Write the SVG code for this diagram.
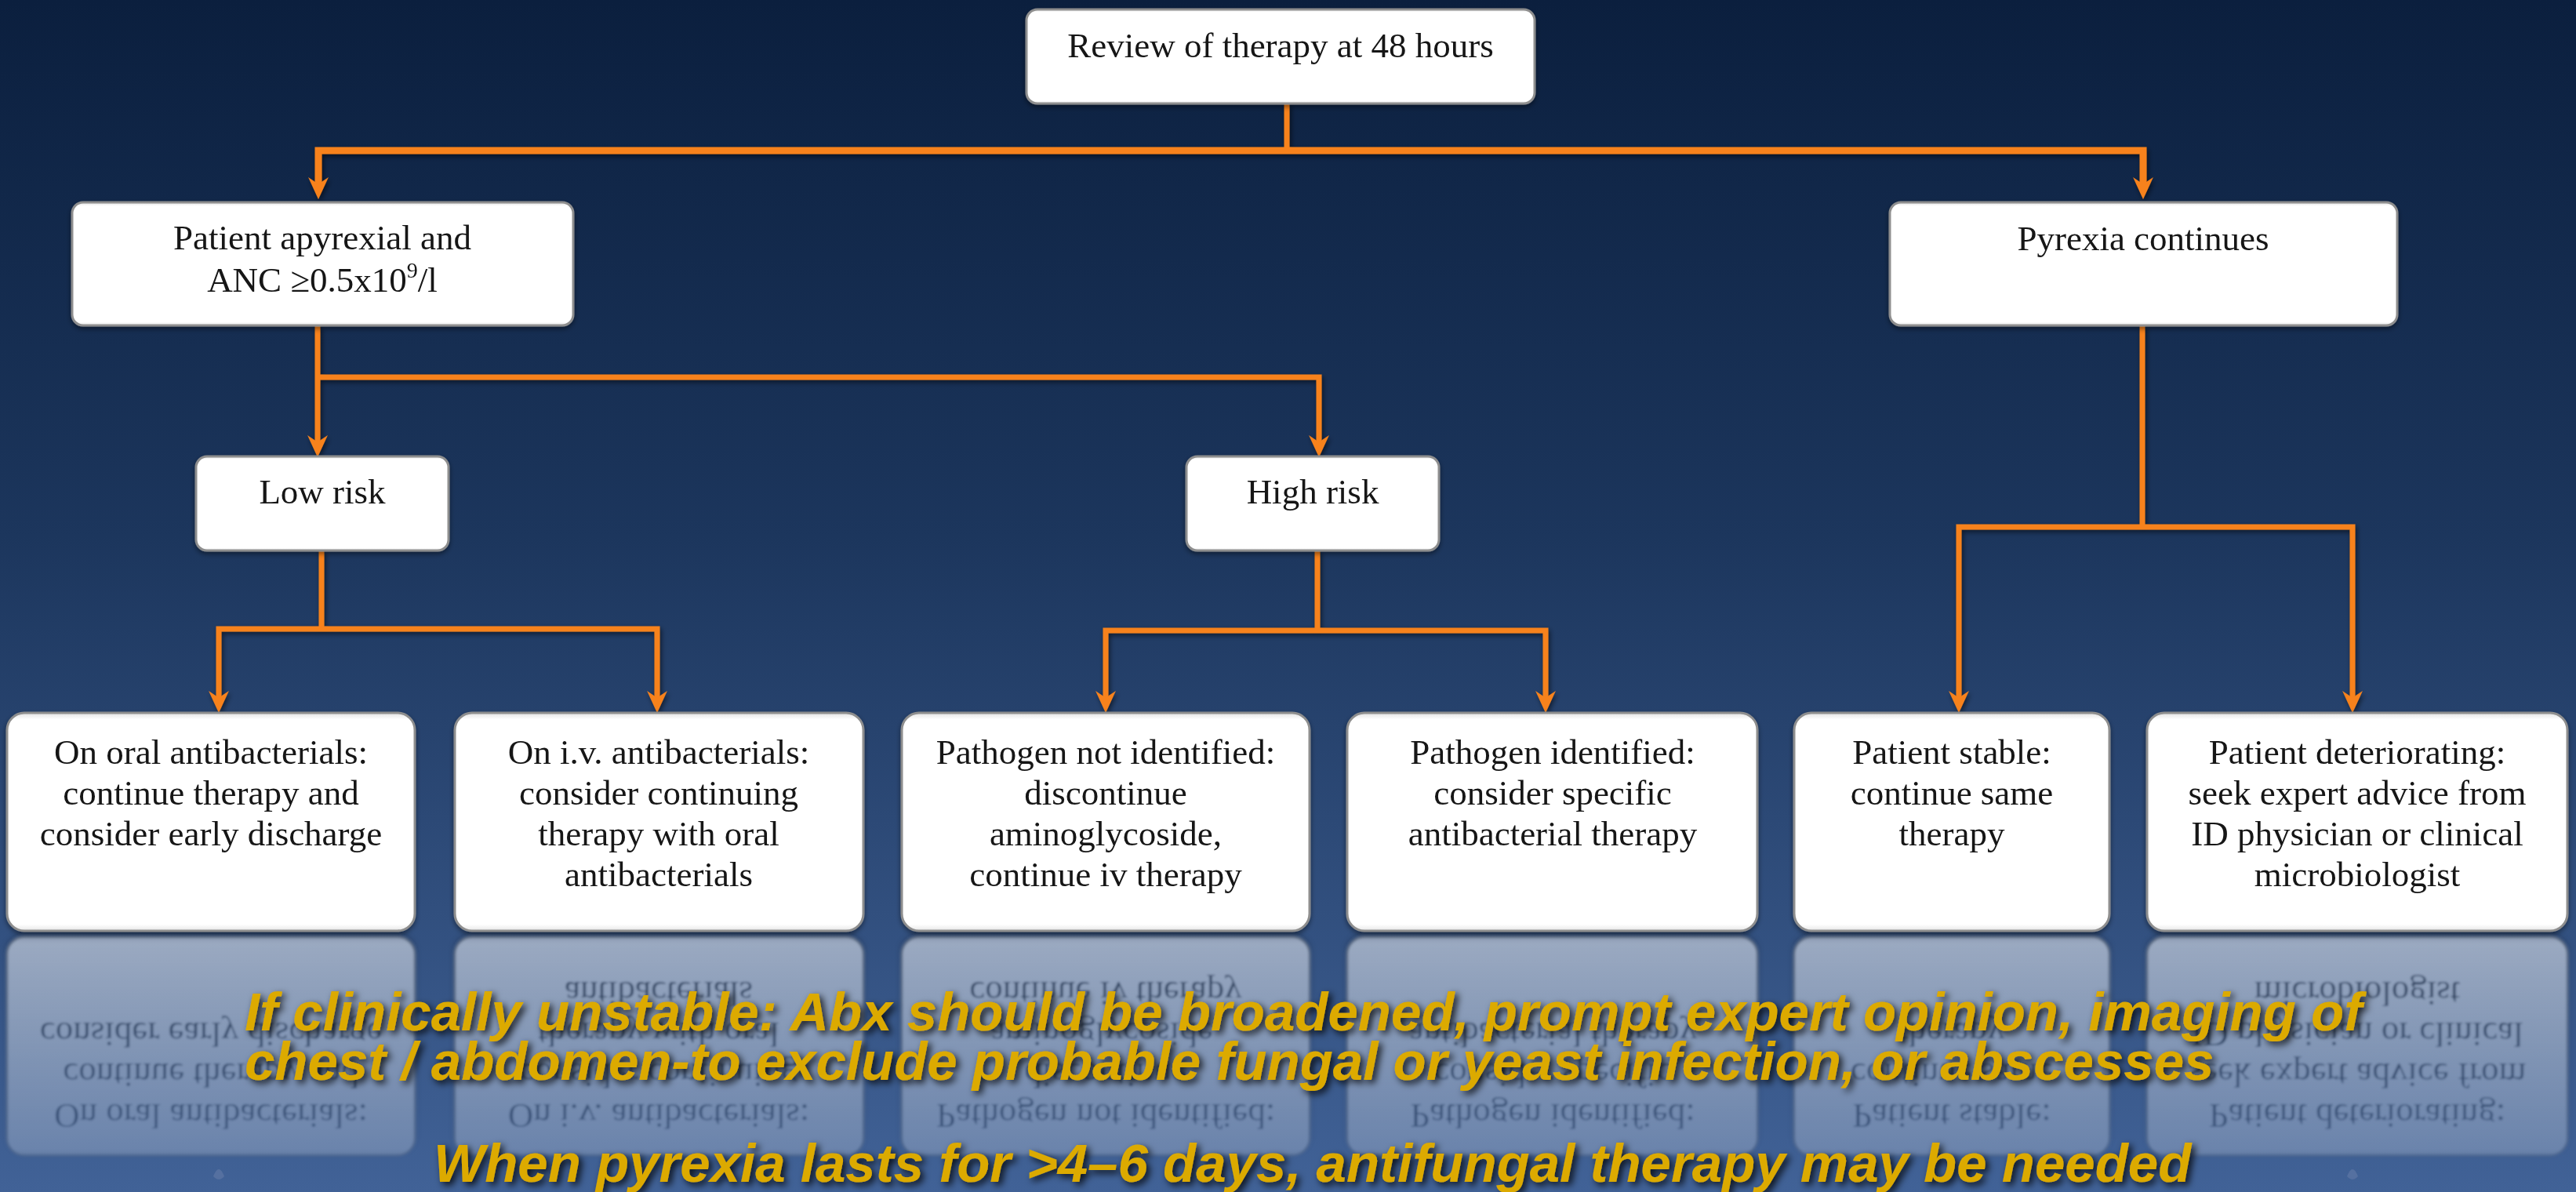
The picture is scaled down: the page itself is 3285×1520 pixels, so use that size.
<svg xmlns="http://www.w3.org/2000/svg" xmlns:xlink="http://www.w3.org/1999/xlink" width="3285" height="1520" viewBox="0 0 3285 1520">
<defs>
  <linearGradient id="bg" x1="0" y1="0" x2="0" y2="1">
    <stop offset="0" stop-color="#0b1f3e"/>
    <stop offset="0.45" stop-color="#1c365d"/>
    <stop offset="1" stop-color="#416297"/>
  </linearGradient>
  <linearGradient id="boxfill" x1="0" y1="0" x2="0" y2="1">
    <stop offset="0" stop-color="#e2e2e2"/>
    <stop offset="0.03" stop-color="#ffffff"/>
    <stop offset="0.97" stop-color="#ffffff"/>
    <stop offset="1" stop-color="#e6e6e6"/>
  </linearGradient>
  <linearGradient id="reflGrad" gradientUnits="userSpaceOnUse" x1="0" y1="1190" x2="0" y2="1480">
    <stop offset="0" stop-color="#ffffff" stop-opacity="0.52"/>
    <stop offset="1" stop-color="#ffffff" stop-opacity="0.22"/>
  </linearGradient>
  <mask id="reflMask" maskUnits="userSpaceOnUse" x="0" y="1188" width="3285" height="332">
    <rect x="0" y="1188" width="3285" height="332" fill="url(#reflGrad)"/>
  </mask>
  <filter id="boxShadow" x="-5%" y="-10%" width="110%" height="125%">
    <feDropShadow dx="0" dy="3" stdDeviation="3" flood-color="#000" flood-opacity="0.45"/>
  </filter>
  <filter id="lineShadow" x="-5%" y="-5%" width="110%" height="110%">
    <feDropShadow dx="2" dy="3" stdDeviation="3" flood-color="#000" flood-opacity="0.55"/>
  </filter>
  <filter id="txtShadow" x="-5%" y="-30%" width="110%" height="160%">
    <feDropShadow dx="4" dy="4" stdDeviation="5" flood-color="#000" flood-opacity="0.85"/>
  </filter>
  <filter id="reflBlur" filterUnits="userSpaceOnUse" x="0" y="1150" width="3285" height="370">
    <feGaussianBlur stdDeviation="1.6"/>
  </filter>
  <marker id="ah" markerUnits="userSpaceOnUse" markerWidth="28" markerHeight="26" viewBox="0 0 26 24" refX="12" refY="12" orient="auto-start-reverse">
    <path d="M0,0 L26,12 L0,24 L8,12 Z" fill="#f7821b"/>
  </marker>
  <style>
    .box { fill: url(#boxfill); stroke: #8e8e8e; stroke-width: 3; }
    .node { filter: url(#boxShadow); }
    .t { font-family: "Liberation Serif", "Times New Roman", serif; font-size: 45px; fill: #141414; text-anchor: middle; }
    .conn { fill: none; stroke: #f7821b; stroke-width: 7; stroke-linejoin: miter; stroke-linecap: butt; }
    .note { font-family: "Liberation Sans", Arial, sans-serif; font-weight: bold; font-style: italic; font-size: 69px; fill: #dcaa00; }
  </style>
</defs>

<rect x="0" y="0" width="3285" height="1520" fill="url(#bg)"/>

<!-- connectors -->
<g id="connectors" filter="url(#lineShadow)">
  <path class="conn" d="M1641,132 V192"/>
  <path class="conn" style="stroke-width:9" d="M406,239 V192 H2733 V239" marker-start="url(#ah)" marker-end="url(#ah)"/>
  <path class="conn" d="M405,415 V568" marker-end="url(#ah)"/>
  <path class="conn" d="M405,481 H1682 V568" marker-end="url(#ah)"/>
  <path class="conn" d="M410,702 V802"/>
  <path class="conn" d="M279,894 V802 H838 V894" marker-start="url(#ah)" marker-end="url(#ah)"/>
  <path class="conn" d="M1680,702 V804"/>
  <path class="conn" d="M1410,894 V804 H1971 V894" marker-start="url(#ah)" marker-end="url(#ah)"/>
  <path class="conn" d="M2732,415 V672"/>
  <path class="conn" d="M2498,894 V672 H3000 V894" marker-start="url(#ah)" marker-end="url(#ah)"/>
</g>

<!-- nodes -->
<g id="n-review" class="node">
  <rect class="box" x="1309" y="12" width="648" height="120" rx="14"/>
  <text class="t" x="1633" y="73">Review of therapy at 48 hours</text>
</g>
<g id="n-apyrexial" class="node">
  <rect class="box" x="92" y="258" width="639" height="157" rx="14"/>
  <text class="t" x="411" y="318">Patient apyrexial and</text>
  <text class="t" x="411" y="372">ANC ≥0.5x10<tspan font-size="28" dy="-18">9</tspan><tspan dy="18">/l</tspan></text>
</g>
<g id="n-pyrexia" class="node">
  <rect class="box" x="2410" y="258" width="647" height="157" rx="14"/>
  <text class="t" x="2733" y="319">Pyrexia continues</text>
</g>
<g id="n-low" class="node">
  <rect class="box" x="250" y="582" width="322" height="120" rx="14"/>
  <text class="t" x="411" y="642">Low risk</text>
</g>
<g id="n-high" class="node">
  <rect class="box" x="1513" y="582" width="322" height="120" rx="14"/>
  <text class="t" x="1674" y="642">High risk</text>
</g>

<g id="bottom-nodes">
<g id="n-oral" class="node">
  <rect class="box" x="9" y="909" width="520" height="278" rx="22"/>
  <text class="t" x="269" y="974">On oral antibacterials:</text>
  <text class="t" x="269" y="1026">continue therapy and</text>
  <text class="t" x="269" y="1078">consider early discharge</text>
</g>
<g id="n-iv" class="node">
  <rect class="box" x="580" y="909" width="521" height="278" rx="22"/>
  <text class="t" x="840" y="974">On i.v. antibacterials:</text>
  <text class="t" x="840" y="1026">consider continuing</text>
  <text class="t" x="840" y="1078">therapy with oral</text>
  <text class="t" x="840" y="1130">antibacterials</text>
</g>
<g id="n-notid" class="node">
  <rect class="box" x="1150" y="909" width="520" height="278" rx="22"/>
  <text class="t" x="1410" y="974">Pathogen not identified:</text>
  <text class="t" x="1410" y="1026">discontinue</text>
  <text class="t" x="1410" y="1078">aminoglycoside,</text>
  <text class="t" x="1410" y="1130">continue iv therapy</text>
</g>
<g id="n-id" class="node">
  <rect class="box" x="1718" y="909" width="523" height="278" rx="22"/>
  <text class="t" x="1980" y="974">Pathogen identified:</text>
  <text class="t" x="1980" y="1026">consider specific</text>
  <text class="t" x="1980" y="1078">antibacterial therapy</text>
</g>
<g id="n-stable" class="node">
  <rect class="box" x="2288" y="909" width="402" height="278" rx="22"/>
  <text class="t" x="2489" y="974">Patient stable:</text>
  <text class="t" x="2489" y="1026">continue same</text>
  <text class="t" x="2489" y="1078">therapy</text>
</g>
<g id="n-deter" class="node">
  <rect class="box" x="2738" y="909" width="536" height="278" rx="22"/>
  <text class="t" x="3006" y="974">Patient deteriorating:</text>
  <text class="t" x="3006" y="1026">seek expert advice from</text>
  <text class="t" x="3006" y="1078">ID physician or clinical</text>
  <text class="t" x="3006" y="1130">microbiologist</text>
</g>
</g>

<!-- reflection of the bottom row -->
<g id="reflection" mask="url(#reflMask)">
  <g filter="url(#reflBlur)">
    <use xlink:href="#bottom-nodes" href="#bottom-nodes" transform="matrix(1 0 0 -1 0 2382)"/>
  </g>
</g>
<g id="reflection-arrows" fill="#5a74a3" opacity="0.8">
  <path d="M272,1500 Q279,1482 286,1500 Q279,1508 272,1500 Z"/>
  <path d="M2993,1500 Q3000,1482 3007,1500 Q3000,1508 2993,1500 Z"/>
</g>

<!-- notes -->
<g id="notes" filter="url(#txtShadow)">
  <text class="note" x="312" y="1314">If clinically unstable: Abx should be broadened, prompt expert opinion, imaging of</text>
  <text class="note" x="312" y="1377">chest / abdomen-to exclude probable fungal or yeast infection, or abscesses</text>
  <text class="note" x="553" y="1507">When pyrexia lasts for &gt;4–6 days, antifungal therapy may be needed</text>
</g>
</svg>
